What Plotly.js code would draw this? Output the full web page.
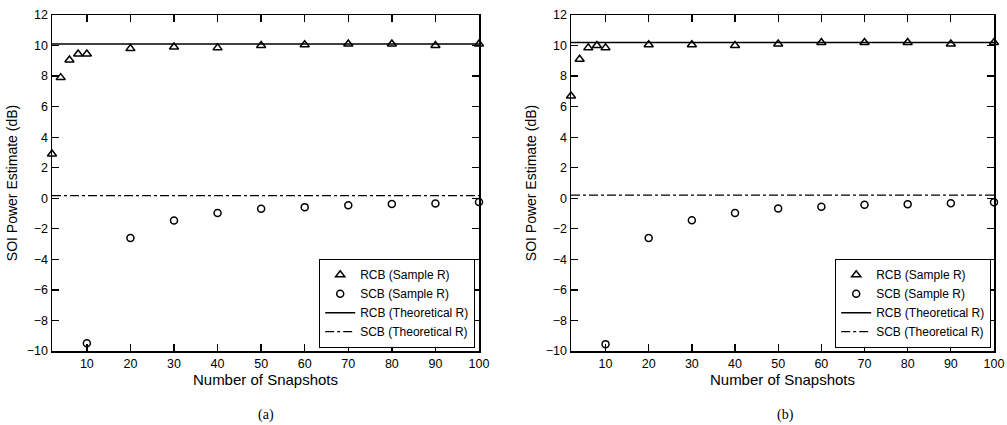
<!DOCTYPE html>
<html>
<head>
<meta charset="utf-8">
<script src="https://cdn.plot.ly/plotly-3.0.1.min.js"></script>
<style>html,body{margin:0;padding:0;background:#fff;}#chart{width:1007px;height:425px;}</style>
</head>
<body>
<div id="chart"></div>
<script>
// ---- data ----
var snapshots = [2, 4, 6, 8, 10, 20, 30, 40, 50, 60, 70, 80, 90, 100];
var scbSnapshots = [10, 20, 30, 40, 50, 60, 70, 80, 90, 100];
var lineX = [2, 100];

var rcbSampleA = [2.9, 7.9, 9.05, 9.45, 9.45, 9.8, 9.9, 9.85, 10.0, 10.05, 10.1, 10.1, 10.0, 10.1];
var scbSampleA = [-9.5, -2.6, -1.45, -0.97, -0.68, -0.58, -0.45, -0.38, -0.34, -0.25];
var rcbTheoryA = [10.1, 10.1];
var scbTheoryA = [0.17, 0.17];

var rcbSampleB = [6.7, 9.1, 9.85, 10.0, 9.85, 10.05, 10.05, 10.0, 10.1, 10.2, 10.2, 10.2, 10.1, 10.2];
var scbSampleB = [-9.55, -2.6, -1.44, -0.96, -0.67, -0.56, -0.43, -0.39, -0.32, -0.26];
var rcbTheoryB = [10.2, 10.2];
var scbTheoryB = [0.2, 0.2];

var names = ['RCB (Sample R)', 'SCB (Sample R)', 'RCB (Theoretical R)', 'SCB (Theoretical R)'];
var xTicks = [10, 20, 30, 40, 50, 60, 70, 80, 90, 100];
var yTicks = [-10, -8, -6, -4, -2, 0, 2, 4, 6, 8, 10, 12];
var xTitle = 'Number of Snapshots';
var yTitle = 'SOI Power Estimate (dB)';
var panelLabels = ['(a)', '(b)'];

// ---- traces ----
function panel(rcbS, scbS, rcbT, scbT, xa, ya, leg) {
  return [
    {x: snapshots, y: rcbS, xaxis: xa, yaxis: ya, legend: leg, name: names[0], type: 'scatter', mode: 'markers',
     cliponaxis: false, marker: {symbol: 'triangle-up-open', size: 8, color: '#000', line: {width: 1.5, color: '#000'}}},
    {x: scbSnapshots, y: scbS, xaxis: xa, yaxis: ya, legend: leg, name: names[1], type: 'scatter', mode: 'markers',
     cliponaxis: false, marker: {symbol: 'circle-open', size: 7, color: '#000', line: {width: 1.5, color: '#000'}}},
    {x: lineX, y: rcbT, xaxis: xa, yaxis: ya, legend: leg, name: names[2], type: 'scatter', mode: 'lines',
     line: {color: '#000', width: 1.5}},
    {x: lineX, y: scbT, xaxis: xa, yaxis: ya, legend: leg, name: names[3], type: 'scatter', mode: 'lines',
     line: {color: '#000', width: 1.3, dash: 'dashdot'}}
  ];
}
var data = panel(rcbSampleA, scbSampleA, rcbTheoryA, scbTheoryA, 'x', 'y', 'legend')
  .concat(panel(rcbSampleB, scbSampleB, rcbTheoryB, scbTheoryB, 'x2', 'y2', 'legend2'));

var font = {family: 'Liberation Sans, Arial, sans-serif', size: 12, color: '#000'};
function xaxis(dom, anchor) {
  return {domain: dom, anchor: anchor, range: [2, 100], tickvals: xTicks, ticktext: xTicks.map(String),
    ticks: 'inside', ticklen: 7, tickwidth: 1.3, tickcolor: '#000', showline: true, linewidth: 1.5, linecolor: '#000',
    mirror: 'allticks', showgrid: false, zeroline: false, ticklabeloverflow: 'allow',
    tickfont: {family: font.family, size: 12.5, color: '#000'},
    title: {text: xTitle, font: {family: font.family, size: 15, color: '#000'}, standoff: 4}};
}
function yaxis(dom, anchor) {
  return {domain: dom, anchor: anchor, range: [-10, 12], tickvals: yTicks, ticktext: yTicks.map(function (v) { return v < 0 ? '\u2212' + Math.abs(v) : String(v); }),
    ticks: 'inside', ticklen: 7, tickwidth: 1.3, tickcolor: '#000', showline: true, linewidth: 1.5, linecolor: '#000',
    mirror: 'allticks', showgrid: false, zeroline: false, ticklabeloverflow: 'allow',
    tickfont: {family: font.family, size: 12.5, color: '#000'},
    title: {text: yTitle, font: {family: font.family, size: 14, color: '#000'}, standoff: 6}};
}
function legend(x) {
  return {x: x, y: 77 / 425, xanchor: 'right', yanchor: 'bottom', bgcolor: '#fff', bordercolor: '#000', borderwidth: 1.2,
    font: {family: font.family, size: 12, color: '#000'}, itemwidth: 30, tracegroupgap: 0};
}

var yDom = [74 / 425, 410 / 425];
var layout = {
  width: 1007, height: 425,
  margin: {l: 0, r: 0, t: 0, b: 0},
  paper_bgcolor: '#fff', plot_bgcolor: '#fff',
  font: font,
  showlegend: true,
  xaxis: xaxis([52 / 1007, 479 / 1007], 'y'),
  yaxis: yaxis(yDom, 'x'),
  xaxis2: xaxis([571 / 1007, 994 / 1007], 'y2'),
  yaxis2: yaxis(yDom, 'x2'),
  legend: legend(475 / 1007),
  legend2: legend(991 / 1007),
  annotations: [
    {text: panelLabels[0], x: 265.5 / 1007, y: 10 / 425, xref: 'paper', yref: 'paper', showarrow: false, xanchor: 'center', yanchor: 'middle',
     font: {family: 'Liberation Serif, Times New Roman, serif', size: 14, color: '#000'}},
    {text: panelLabels[1], x: 785 / 1007, y: 10 / 425, xref: 'paper', yref: 'paper', showarrow: false, xanchor: 'center', yanchor: 'middle',
     font: {family: 'Liberation Serif, Times New Roman, serif', size: 14, color: '#000'}}
  ]
};

Plotly.newPlot('chart', data, layout, {displayModeBar: false, staticPlot: true});
</script>
</body>
</html>
